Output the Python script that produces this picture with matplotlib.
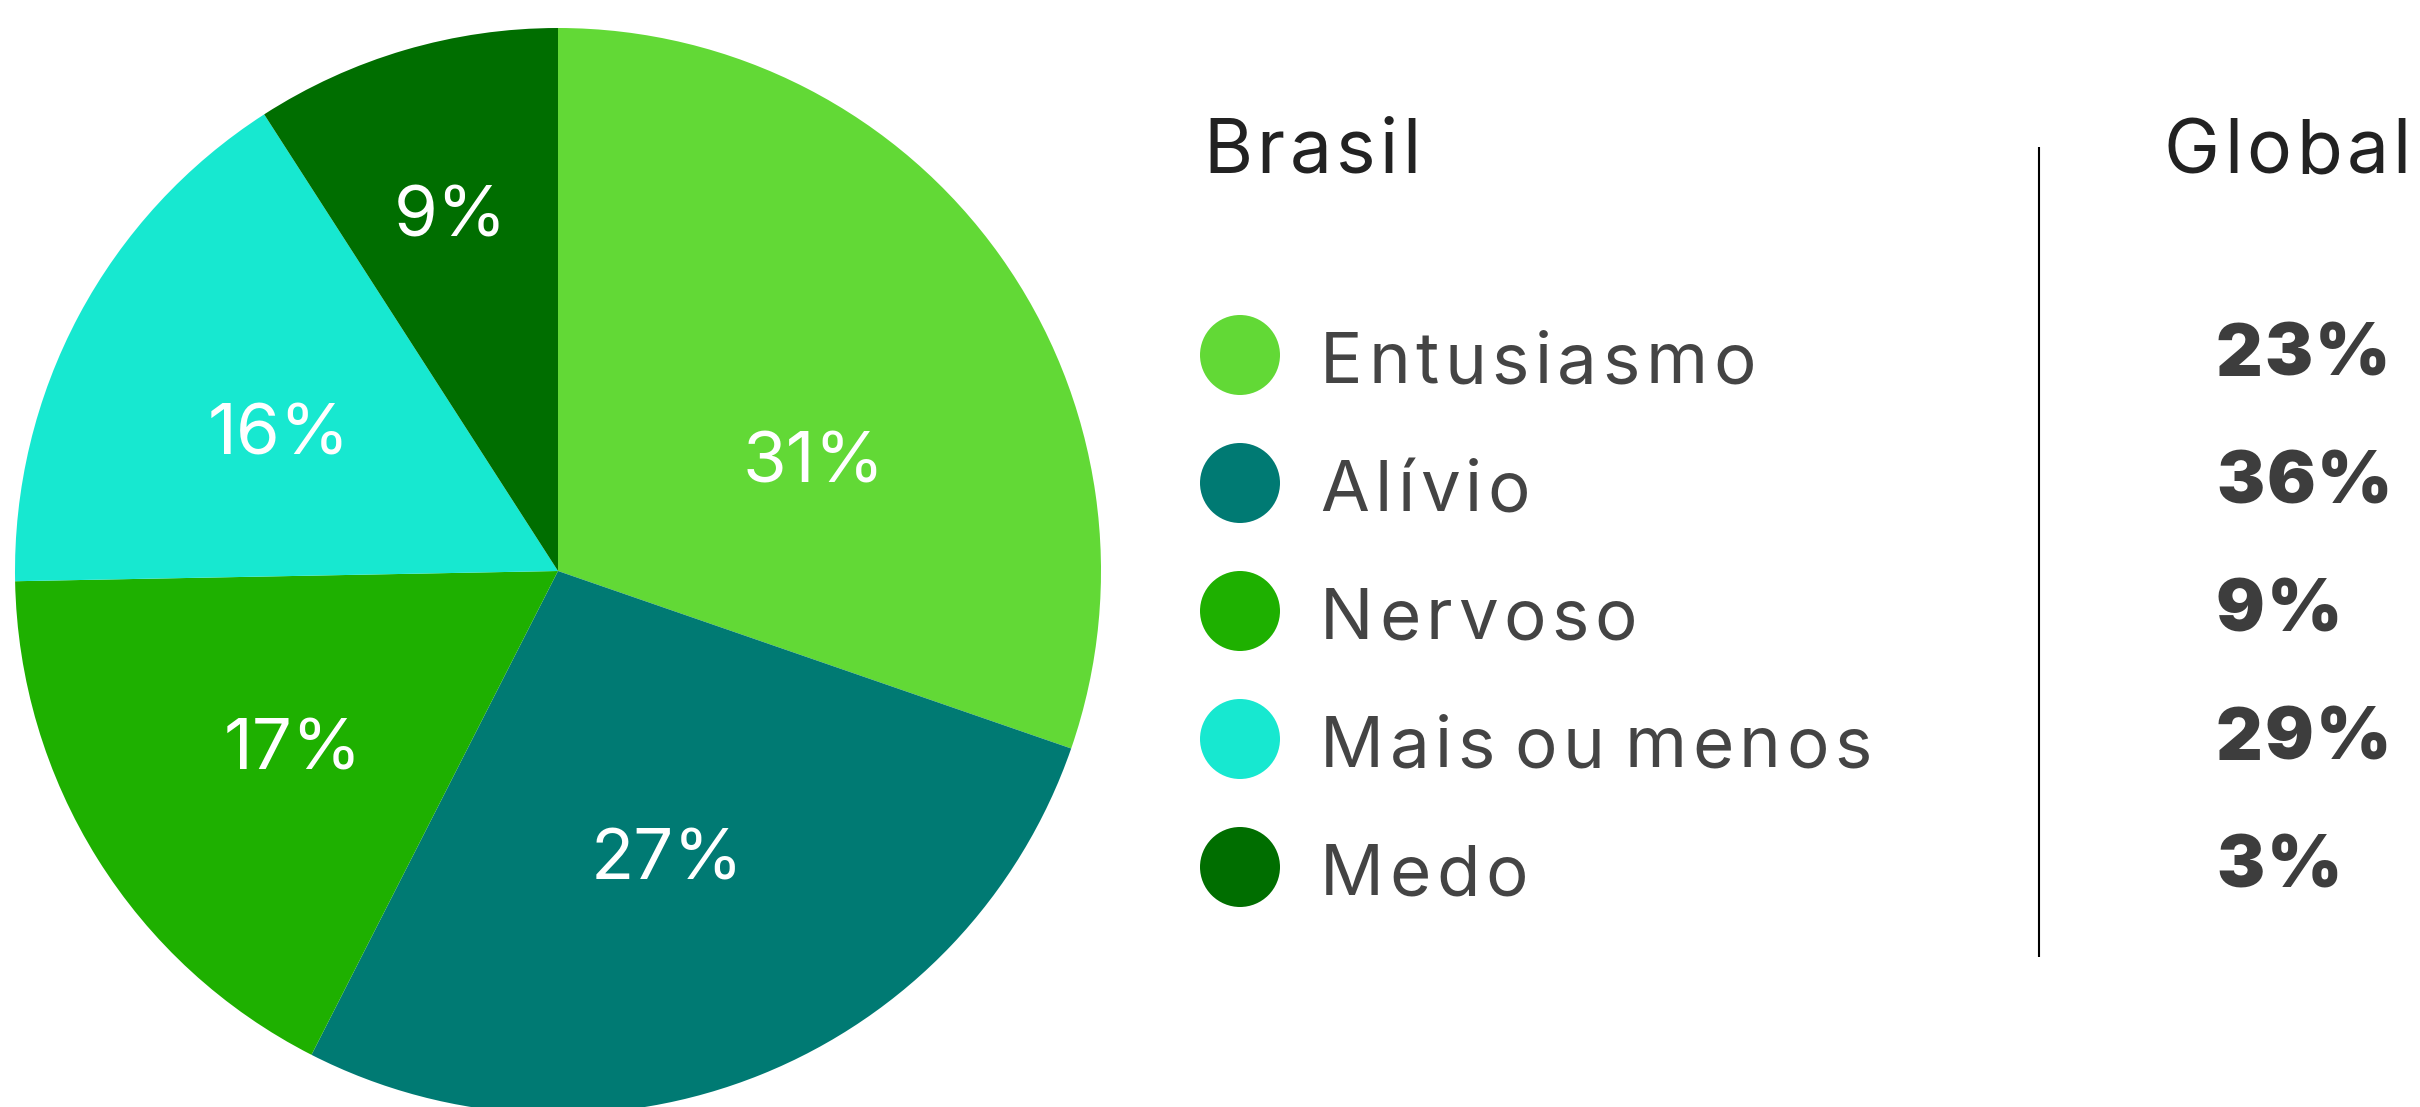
import math
import matplotlib
matplotlib.use("Agg")
import matplotlib.pyplot as plt
from matplotlib.patches import Circle
from matplotlib.font_manager import FontProperties

# ---- data ----
categories = ["Entusiasmo", "Alívio", "Nervoso", "Mais ou menos", "Medo"]
brasil_share = [30.3, 27.2, 17.2, 16.2, 9.1]          # slice sizes
brasil_labels = ["31%", "27%", "17%", "16%", "9%"]     # printed labels
global_vals = ["23%", "36%", "9%", "29%", "3%"]
colors = ["#62D936", "#007A73", "#1EB000", "#17E8D0", "#006E00"]
header_left = "Brasil"
header_right = "Global"

# ---- styles ----
W, H = 2420, 1107
FONT = "Inter"
label_dist = [0.51, 0.57, 0.59, 0.57, 0.68]
label_angle_shift = [-12.7, -1.3, 2.1, 2.3, 0.6]

fig = plt.figure(figsize=(W / 100, H / 100), dpi=100)
fig.patch.set_facecolor("white")
renderer = fig.canvas.get_renderer()

# pie axes: center (558, 571) px from top, radius 543 px
cx, cy, r = 558, 571, 543
ax = fig.add_axes([(cx - r) / W, (H - cy - r) / H, 2 * r / W, 2 * r / H])
wedges, _ = ax.pie(brasil_share, colors=colors, startangle=90, counterclock=False,
                   radius=1, wedgeprops=dict(linewidth=0))
ax.set_xlim(-1, 1)
ax.set_ylim(-1, 1)
ax.set_aspect("equal")
ax.axis("off")

cap_pie = 53 / r
for w, lab, d, sh in zip(wedges, brasil_labels, label_dist, label_angle_shift):
    ang = math.radians((w.theta1 + w.theta2) / 2 + sh)
    x, y = d * math.cos(ang), d * math.sin(ang)
    ax.text(x, y - cap_pie / 2 + 8 / r, lab, color="white", fontsize=51, family=FONT,
            fontweight="normal", ha="center", va="baseline")

# overlay axes in pixel coordinates
ov = fig.add_axes([0, 0, 1, 1])
ov.set_xlim(0, W)
ov.set_ylim(H, 0)
ov.axis("off")


def tracked(x, y, s, track, size, weight="normal", color="#444444", align="left"):
    prop = FontProperties(family=FONT, size=size, weight=weight)

    def wid(t):
        return renderer.get_text_width_height_descent(t, prop, ismath=False)[0]

    def ngaps(k):
        return sum(1 for j in range(k) if s[j] != " " and s[j + 1] != " ")

    total = wid(s) + track * ngaps(len(s) - 1)
    x0 = x - total if align == "right" else x
    for i, ch in enumerate(s):
        if ch == " ":
            continue
        pos = wid(s[: i + 1]) - wid(ch)
        ov.text(x0 + pos + ngaps(i) * track, y, ch, fontproperties=prop, color=color,
                ha="left", va="baseline")


tracked(1203, 173, header_left, 4.5, 54, color="#222222")
tracked(2411, 173, header_right, 4.5, 54, color="#222222", align="right")
ov.plot([2039, 2039], [147, 957], color="black", lw=1.5, solid_capstyle="butt")

row0, pitch = 383, 128
for i, (cat, g, c) in enumerate(zip(categories, global_vals, colors)):
    base = row0 + i * pitch
    ov.add_patch(Circle((1240, base - 28), 40, color=c, lw=0))
    tracked(1320, base, cat, 5.5, 51, color="#444444")
    tracked(2216, base - 7, g, 2.0, 52, weight="black", color="#3d3d3d")

fig.savefig("out.png", dpi=100)
